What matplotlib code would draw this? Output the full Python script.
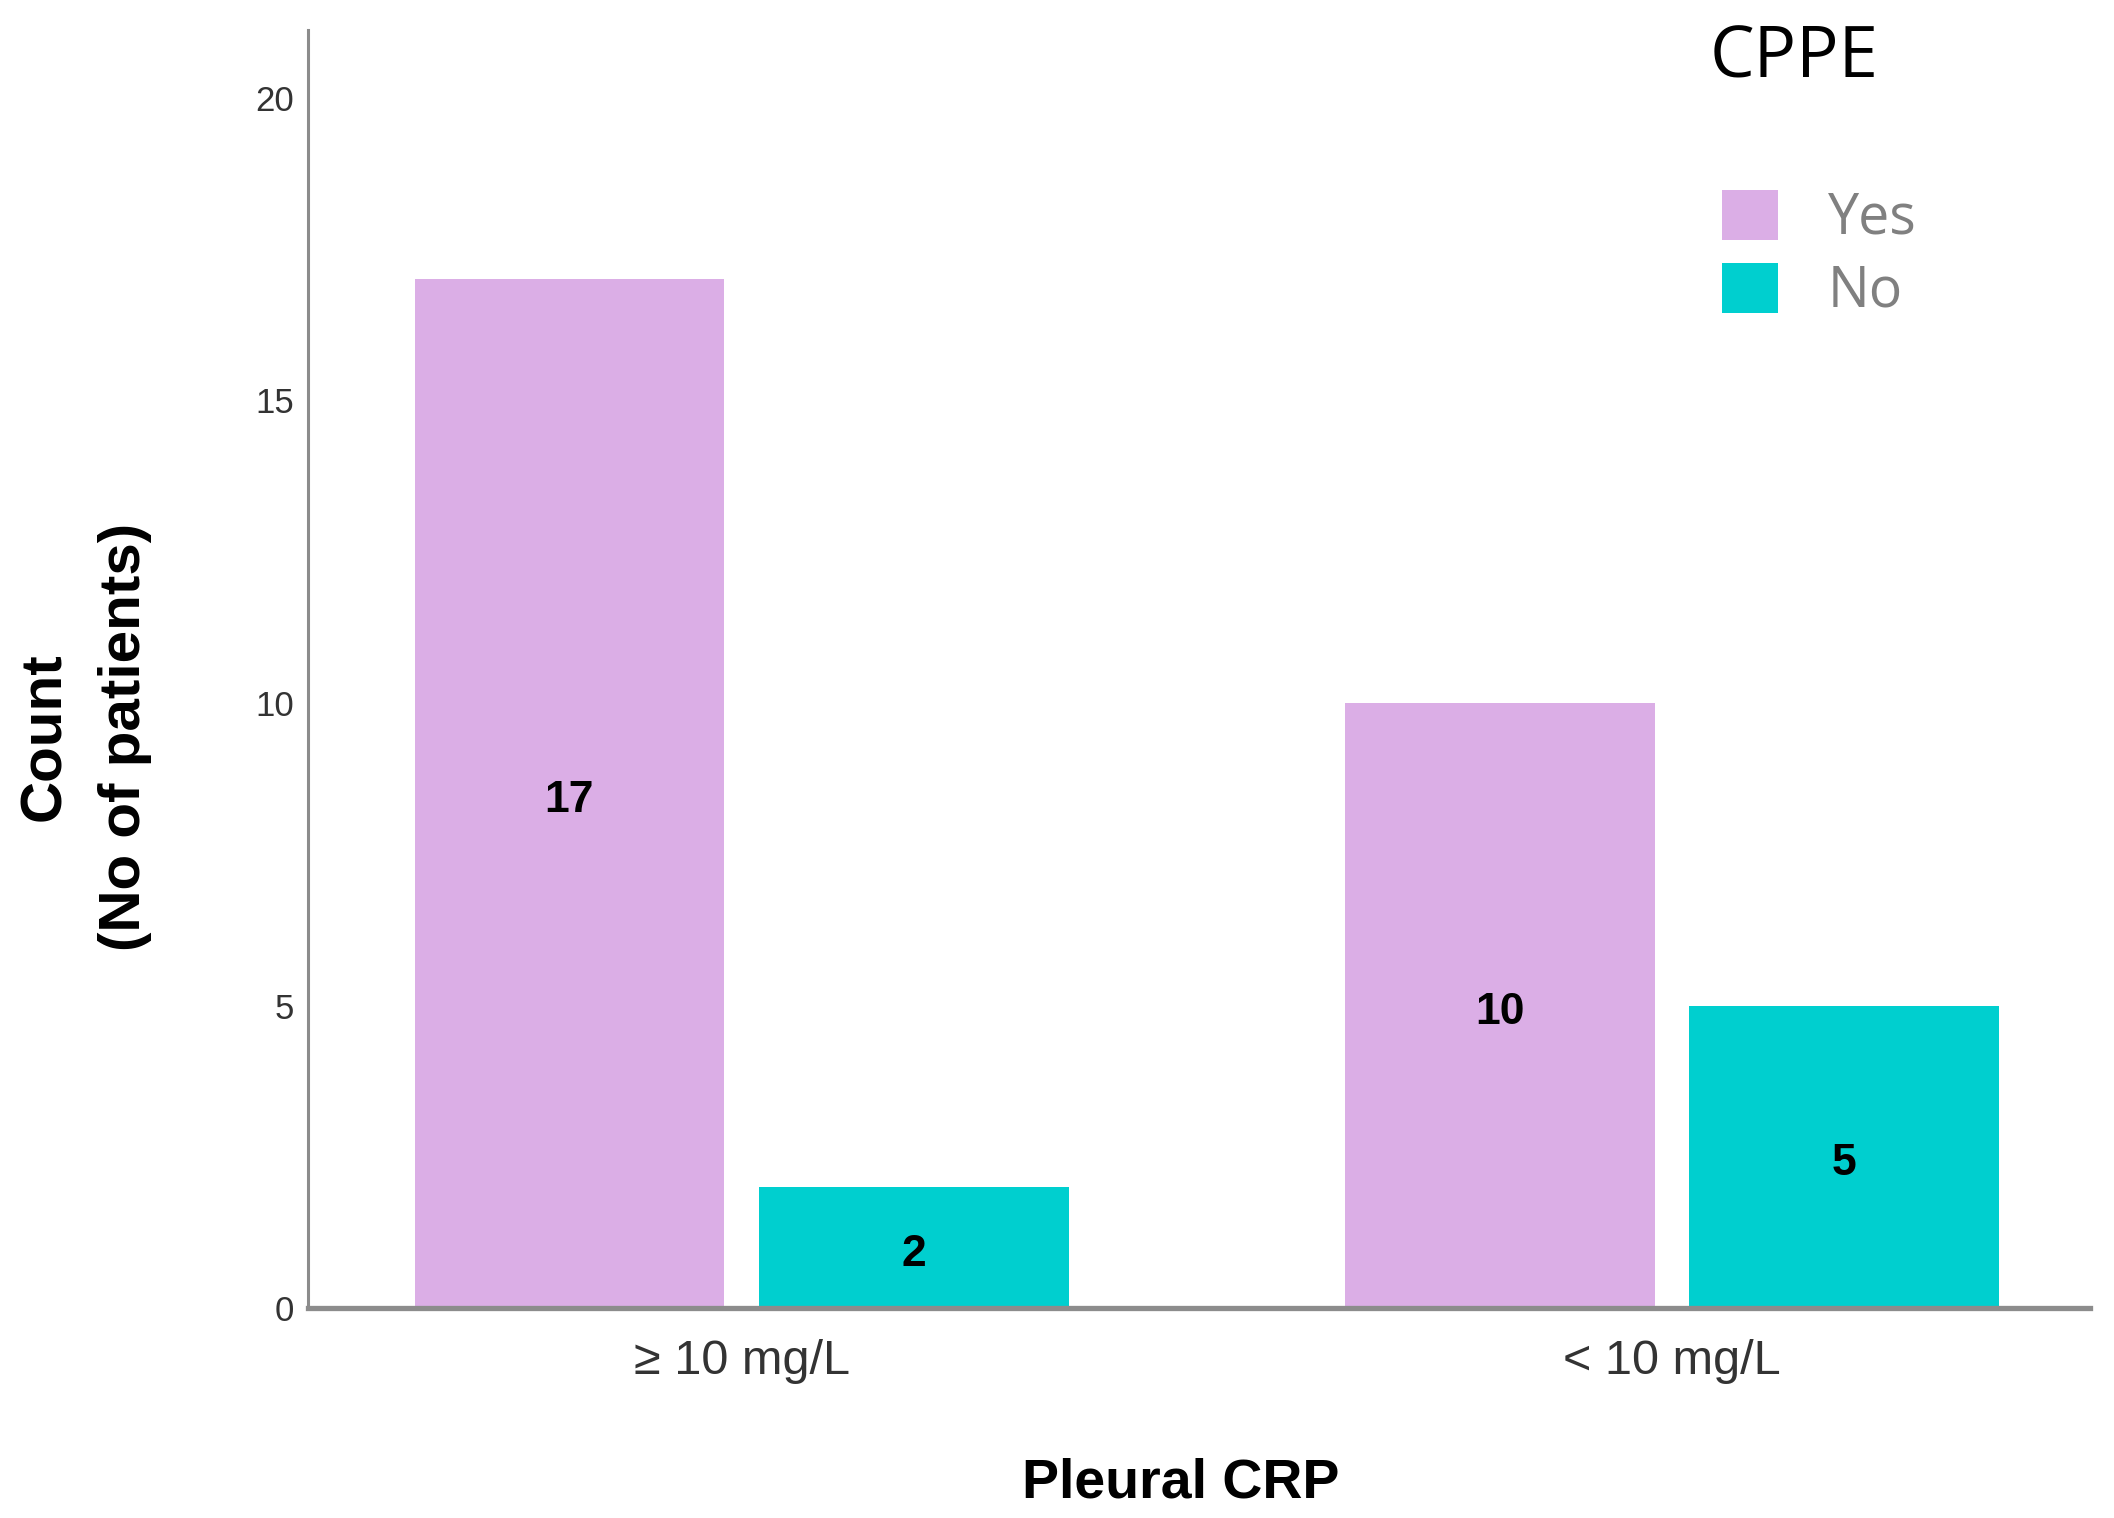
import matplotlib
matplotlib.use("Agg")
import matplotlib.pyplot as plt
import numpy as np

# Data
categories = ["\u2265 10 mg/L", "< 10 mg/L"]
series_names = ["Yes", "No"]
yes_counts = [17, 10]
no_counts = [2, 5]
yticks = [0, 5, 10, 15, 20]

colors = {"Yes": "#DBAEE6", "No": "#00CFCF"}

fig = plt.figure(figsize=(21.14, 15.18), dpi=100)
ax = fig.add_axes([0.1457, 0.1383, 0.9886 - 0.1457, 0.9802 - 0.1383])

x = np.arange(len(categories))
width = 0.333
offset = 0.185

bars_yes = ax.bar(x - offset, yes_counts, width, color=colors["Yes"], label="Yes", zorder=1)
bars_no = ax.bar(x + offset, no_counts, width, color=colors["No"], label="No", zorder=1)

# Counts written in the middle of every bar
label_font = ["Liberation Sans Narrow", "Liberation Sans", "DejaVu Sans"]
for rects in (bars_yes, bars_no):
    for r in rects:
        ax.annotate(str(int(r.get_height())),
                    (r.get_x() + r.get_width() / 2, r.get_height() / 2),
                    xytext=(0, -5), textcoords="offset points",
                    ha="center", va="center", fontsize=32, fontweight="bold",
                    family=label_font, color="black")

ax.set_xlim(-0.466, 1.449)
ax.set_ylim(0, 21.12)
ax.set_xticks(x)
ax.set_xticklabels(categories, fontsize=35, family=["Liberation Sans", "DejaVu Sans"], color="#333333")
ax.set_yticks(yticks)
ax.set_yticklabels([str(t) for t in yticks], fontsize=25, family=["Liberation Sans", "DejaVu Sans"], color="#333333")
ax.tick_params(axis="x", length=0, pad=22)
ax.tick_params(axis="y", length=0, pad=10)

for side in ("top", "right"):
    ax.spines[side].set_visible(False)
ax.spines["left"].set_color("#8c8c8c")
ax.spines["left"].set_linewidth(2.2)
ax.spines["bottom"].set_color("#8c8c8c")
ax.spines["bottom"].set_linewidth(3.8)

# Axis titles
fig.text(85 / 2114, 1 - 737 / 1518, "Count\n(No of patients)", rotation=90,
         ha="center", va="center", multialignment="center", linespacing=1.6,
         fontsize=42, fontweight="bold", family=["Liberation Sans", "DejaVu Sans"])
fig.text(1181 / 2114, 1 - 1484 / 1518, "Pleural CRP", ha="center", va="center",
         fontsize=40, fontweight="bold", family=["Liberation Sans", "DejaVu Sans"])

# Legend: title as separate text, entries as legend
fig.text(1710 / 2114, 1 - 77 / 1518, "CPPE", ha="left", va="baseline",
         fontsize=51, family=["Open Sans", "DejaVu Sans"], color="black")
leg = ax.legend(handles=[bars_yes, bars_no], labels=series_names,
                loc="upper left", bbox_to_anchor=(1722 / 2114, 1 - 190 / 1518),
                bbox_transform=fig.transFigure, frameon=False,
                prop={"family": "Open Sans", "size": 40},
                handlelength=1.0, handleheight=1.0, handletextpad=0.9,
                labelspacing=0.27, borderpad=0, borderaxespad=0)
for t in leg.get_texts():
    t.set_color("#808080")

fig.savefig("out.png", dpi=100, facecolor="white")
